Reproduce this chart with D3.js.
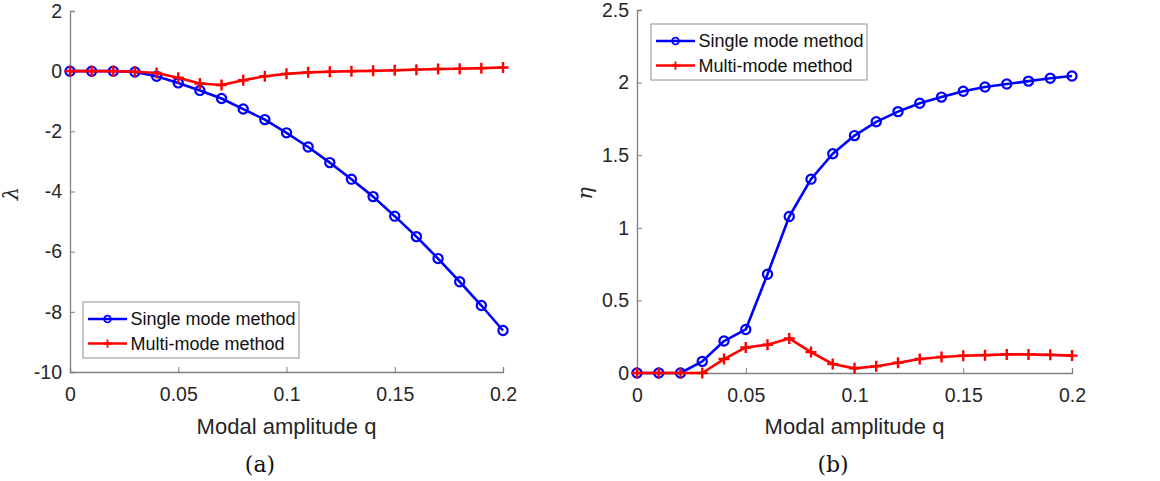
<!DOCTYPE html>
<html>
<head>
<meta charset="utf-8">
<script src="https://cdn.jsdelivr.net/npm/d3@7"></script>
<style>
  html, body { margin: 0; padding: 0; background: #fff; }
  svg { display: block; font-family: "Liberation Sans", Arial, sans-serif; }
</style>
</head>
<body>
<svg id="chart" width="1160" height="481"></svg>
<script>
// modal amplitude samples (shared by both panels)
const qValues = [0, 0.01, 0.02, 0.03, 0.04, 0.05, 0.06, 0.07, 0.08, 0.09, 0.1,
  0.11, 0.12, 0.13, 0.14, 0.15, 0.16, 0.17, 0.18, 0.19, 0.2];

// panel (a): lambda
const lambdaSingle = [0, 0, 0, -0.03, -0.17, -0.39, -0.64, -0.91, -1.26, -1.61, -2.05,
  -2.52, -3.04, -3.59, -4.17, -4.82, -5.5, -6.23, -7.0, -7.79, -8.62];
const lambdaMulti = [0, 0, 0, -0.02, -0.06, -0.22, -0.41, -0.46, -0.3, -0.17, -0.09,
  -0.04, -0.02, 0, 0.01, 0.03, 0.05, 0.07, 0.08, 0.1, 0.12];

// panel (b): eta
const etaSingle = [0, 0, 0, 0.08, 0.22, 0.3, 0.68, 1.078, 1.335, 1.51, 1.635,
  1.73, 1.8, 1.858, 1.9, 1.94, 1.97, 1.99, 2.01, 2.03, 2.045];
const etaMulti = [0, 0, 0, 0, 0.096, 0.176, 0.195, 0.238, 0.144, 0.062, 0.032,
  0.046, 0.071, 0.096, 0.11, 0.119, 0.123, 0.128, 0.128, 0.125, 0.12];

const xTicks = [0, 0.05, 0.1, 0.15, 0.2];
const lambdaTicks = [2, 0, -2, -4, -6, -8, -10];
const etaTicks = [0, 0.5, 1, 1.5, 2, 2.5];
const seriesNames = ["Single mode method", "Multi-mode method"];

const blue = "#0000ff", red = "#ff0000";
const axisColor = "#808080", textColor = "#262626";

const panels = [
  {
    left: 70, right: 503, top: 11, bottom: 372,
    yDomain: [-10, 2], yTicks: lambdaTicks, yLabel: "λ", yLabelX: 18,
    single: lambdaSingle, multi: lambdaMulti,
    legend: { x: 83, y: 302 }, caption: "(a)", captionX: 260
  },
  {
    left: 637, right: 1072, top: 10, bottom: 373,
    yDomain: [0, 2.5], yTicks: etaTicks, yLabel: "η", yLabelX: 592,
    single: etaSingle, multi: etaMulti,
    legend: { x: 651, y: 24 }, caption: "(b)", captionX: 833
  }
];

const svg = d3.select("#chart");
// matlab style labels: plain hyphen for negatives
const fmt = d => String(d);

function drawMarker(g, type, color, k = 1) {
  if (type === "circle") {
    g.append("circle").attr("r", 4.6 * k).attr("fill", "none")
      .attr("stroke", color).attr("stroke-width", 2.2 * k);
  } else {
    const h = 5.5 * k;
    g.append("path").attr("d", `M${-h},0H${h}M0,${-h}V${h}`)
      .attr("stroke", color).attr("stroke-width", 2.4 * k);
  }
}

panels.forEach(p => {
  const x = d3.scaleLinear().domain([0, 0.2]).range([p.left, p.right]);
  const y = d3.scaleLinear().domain(p.yDomain).range([p.bottom, p.top]);
  const g = svg.append("g");

  // axes, ticks pointing inward
  const xAxis = d3.axisBottom(x).tickValues(xTicks).tickSize(-5).tickPadding(15).tickFormat(fmt);
  const yAxis = d3.axisLeft(y).tickValues(p.yTicks).tickSize(-5).tickPadding(8).tickFormat(fmt);

  [g.append("g").attr("transform", `translate(0,${p.bottom})`).call(xAxis),
   g.append("g").attr("transform", `translate(${p.left},0)`).call(yAxis)]
    .forEach(a => {
      a.select(".domain").attr("stroke", axisColor).attr("stroke-width", 1.3);
      a.selectAll(".tick line").attr("stroke", axisColor).attr("stroke-width", 1);
      a.selectAll(".tick text").attr("fill", textColor).attr("font-size", 19.5)
        .attr("font-family", "Liberation Sans, Arial, sans-serif");
    });

  // axis labels
  g.append("text")
    .attr("x", (p.left + p.right) / 2).attr("y", 434)
    .attr("text-anchor", "middle").attr("font-size", 22).attr("fill", textColor)
    .text("Modal amplitude q");
  g.append("text")
    .attr("transform", `translate(${p.yLabelX},${(p.top + p.bottom) / 2 + 2})rotate(-90)`)
    .attr("text-anchor", "middle").attr("font-size", 21).attr("fill", textColor)
    .attr("font-family", "DejaVu Serif, serif").attr("font-style", "italic")
    .text(p.yLabel);

  // caption
  svg.append("text")
    .attr("x", p.captionX).attr("y", 472)
    .attr("text-anchor", "middle").attr("font-size", 22).attr("fill", "#111")
    .attr("font-family", "DejaVu Serif, serif")
    .text(p.caption);

  // series lines and markers
  const line = d3.line().x((d, i) => x(qValues[i])).y(d => y(d));
  const series = [
    { values: p.single, color: blue, marker: "circle" },
    { values: p.multi, color: red, marker: "plus" }
  ];
  series.forEach(s => {
    g.append("path").datum(s.values).attr("d", line)
      .attr("fill", "none").attr("stroke", s.color).attr("stroke-width", 2.6)
      .attr("stroke-linejoin", "round");
    g.append("g").selectAll("g").data(s.values).join("g")
      .attr("transform", (d, i) => `translate(${x(qValues[i])},${y(d)})`)
      .each(function () { drawMarker(d3.select(this), s.marker, s.color); });
  });

  // legend
  const lg = g.append("g").attr("transform", `translate(${p.legend.x},${p.legend.y})`);
  lg.append("rect").attr("width", 216).attr("height", 56)
    .attr("fill", "#fff").attr("stroke", "#909090").attr("stroke-width", 1);
  series.forEach((s, i) => {
    const row = lg.append("g").attr("transform", `translate(0,${17 + i * 24.5})`);
    row.append("line").attr("x1", 5).attr("x2", 44).attr("stroke", s.color).attr("stroke-width", 2.6);
    drawMarker(row.append("g").attr("transform", "translate(24.5,0)"), s.marker, s.color, 0.75);
    row.append("text").attr("x", 47.5).attr("dy", "0.35em")
      .attr("font-size", 18).attr("fill", "#111").text(seriesNames[i]);
  });
});
</script>
</body>
</html>
